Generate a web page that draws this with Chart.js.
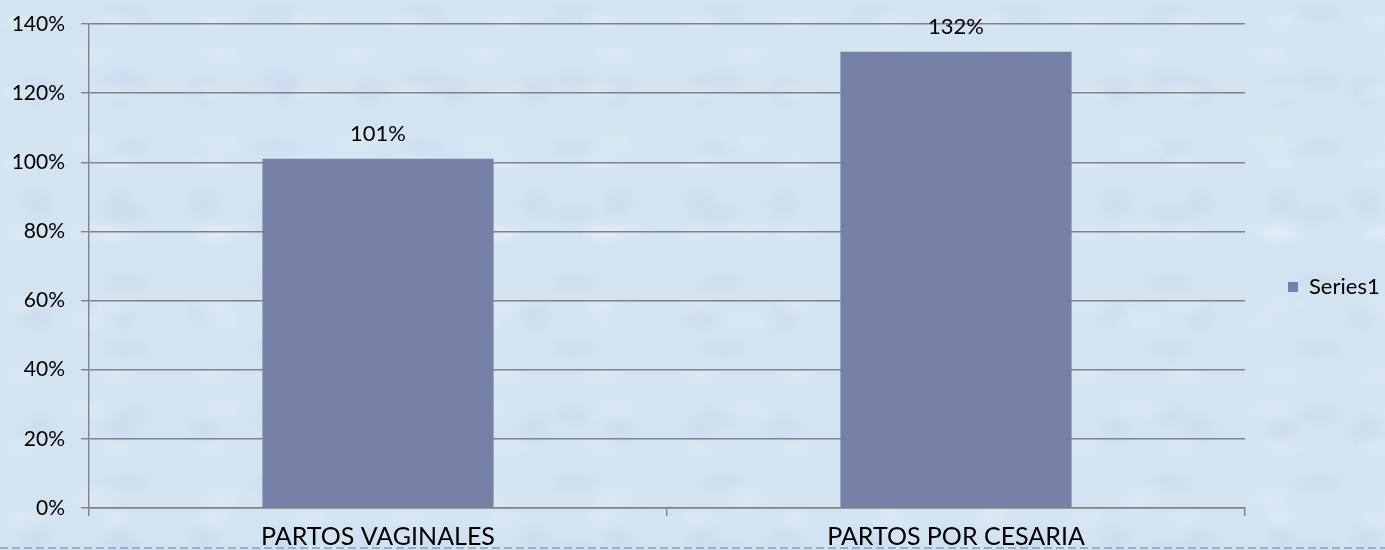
<!DOCTYPE html>
<html lang="es">
<head>
<meta charset="UTF-8">
<title>Partos</title>
<script src="https://cdn.jsdelivr.net/npm/chart.js"></script>
<style>
  html, body { margin: 0; padding: 0; }
  body {
    width: 1385px; height: 550px; overflow: hidden;
    background-color: #d3e3f2;
    background-image:
      radial-gradient(ellipse 40px 18px at 20% 30%, rgba(255,255,255,0.22), transparent 70%),
      radial-gradient(ellipse 55px 25px at 70% 60%, rgba(255,255,255,0.2), transparent 70%),
      radial-gradient(ellipse 30px 30px at 45% 80%, rgba(185,205,232,0.25), transparent 70%),
      radial-gradient(ellipse 45px 20px at 85% 20%, rgba(185,205,232,0.22), transparent 70%);
    background-size: 97px 71px, 131px 89px, 83px 113px, 149px 67px;
  }
  #wrap { position: relative; width: 1385px; height: 550px; }
  #dash {
    position: absolute; left: 0; top: 547px; width: 1385px; height: 2px;
    background: repeating-linear-gradient(90deg, #9cacc4 0 8px, transparent 8px 12px);
  }
</style>
</head>
<body>
<div id="wrap">
  <canvas id="chart" width="1385" height="550"></canvas>
  <div id="dash"></div>
</div>
<script>
const categories = ["PARTOS VAGINALES", "PARTOS POR CESARIA"];
const series1 = [101, 132];
const seriesName = "Series1";
const yMax = 140;
const yStep = 20;

const gridGray = "#828282";
const barColor = "#7780a6";
const textColor = "#000";
const fontFam = "Lato, 'Open Sans', sans-serif";

// values above the bars
const valueLabels = {
  id: "valueLabels",
  afterDatasetsDraw(chart) {
    const ctx = chart.ctx;
    ctx.save();
    ctx.font = "22px " + fontFam;
    ctx.fillStyle = textColor;
    ctx.textAlign = "center";
    ctx.textBaseline = "middle";
    chart.getDatasetMeta(0).data.forEach((bar, i) => {
      ctx.fillText(series1[i] + "%", bar.x, bar.y - 25);
    });
    ctx.restore();
  }
};

// keep the legend narrow so the plot reaches x=1245
const legendWidth = {
  id: "legendWidth",
  beforeLayout(chart) {
    const lg = chart.legend;
    if (lg && !lg._patched) {
      const fit = lg.fit;
      lg.fit = function () { fit.call(this); this.width = 140; };
      lg._patched = true;
    }
  }
};

new Chart(document.getElementById("chart"), {
  type: "bar",
  data: {
    labels: categories,
    datasets: [{
      label: seriesName,
      data: series1,
      backgroundColor: barColor,
      barPercentage: 0.4,
      categoryPercentage: 1.0
    }]
  },
  options: {
    responsive: false,
    animation: false,
    layout: { padding: { top: 24, left: 0, right: 0, bottom: 0 } },
    plugins: {
      tooltip: { enabled: false },
      legend: {
        position: "right",
        labels: {
          boxWidth: 10, boxHeight: 10, padding: 43,
          color: textColor,
          font: { family: fontFam, size: 22 }
        }
      }
    },
    scales: {
      x: {
        grid: { offset: true, drawOnChartArea: false, drawTicks: true, tickLength: 8, color: gridGray, lineWidth: 1.4 },
        border: { color: gridGray, width: 1.4 },
        ticks: { color: textColor, padding: 6, font: { family: fontFam, size: 25 }, maxRotation: 0 },
        afterFit(scale) { scale.height = 42; }
      },
      y: {
        min: 0, max: yMax,
        grid: { color: gridGray, lineWidth: 1.4, tickLength: 8 },
        border: { color: gridGray, width: 1.4 },
        ticks: {
          stepSize: yStep, color: textColor, padding: 16,
          font: { family: fontFam, size: 21 },
          callback: v => v + "%"
        },
        afterFit(scale) {
          scale.width = 89;
          scale.paddingTop = 0;
          scale.paddingBottom = 0;
        }
      }
    }
  },
  plugins: [valueLabels, legendWidth]
});
</script>
</body>
</html>
